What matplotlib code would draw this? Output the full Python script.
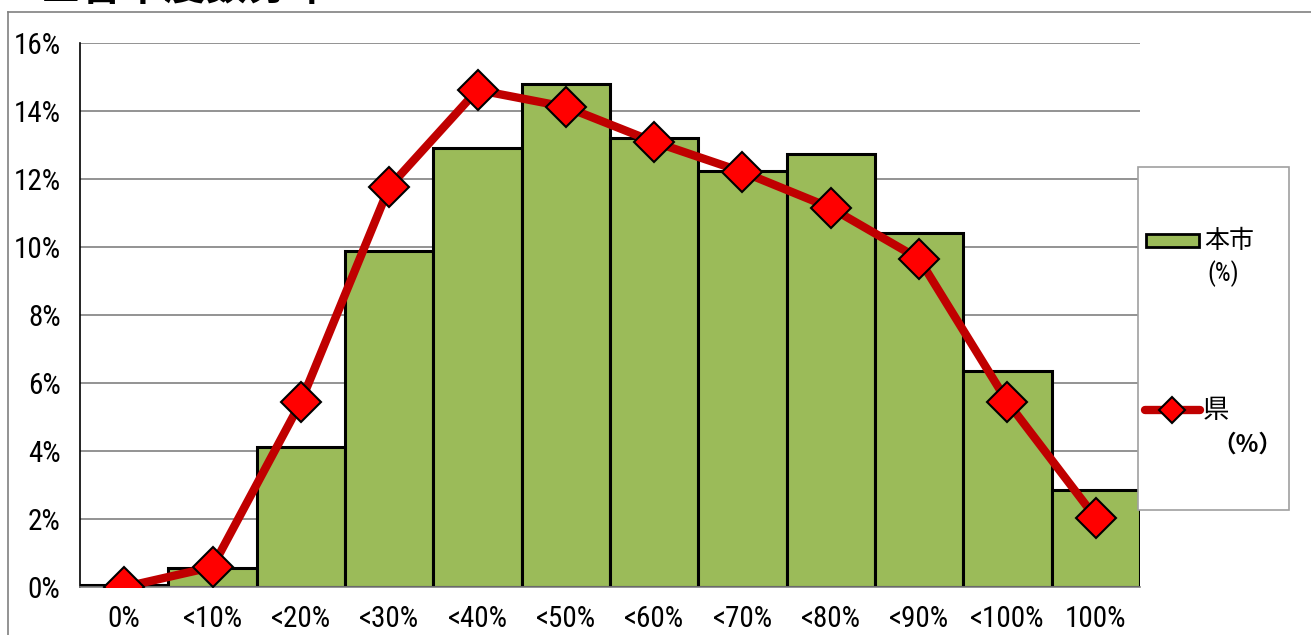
import numpy as np
import matplotlib
matplotlib.use("Agg")
import matplotlib.pyplot as plt
from matplotlib.patches import Rectangle
from matplotlib.lines import Line2D
from matplotlib import font_manager

plt.rcParams['font.family'] = ['Noto Sans CJK JP', 'DejaVu Sans']

# narrow face for the numeric labels, first one available
installed = {f.name for f in font_manager.fontManager.ttflist}
narrow_pref = ['Roboto Condensed', 'PT Sans Narrow', 'Archivo Narrow',
               'Liberation Sans Narrow', 'Open Sans Condensed', 'Noto Sans CJK JP']
NARROW = [next(n for n in narrow_pref if n in installed or n == 'Noto Sans CJK JP'),
          'Noto Sans CJK JP']

# distribution data (percent of total)
categories = ["0%", "<10%", "<20%", "<30%", "<40%", "<50%",
              "<60%", "<70%", "<80%", "<90%", "<100%", "100%"]
city_pct = [0.05, 0.55, 4.12, 9.88, 12.91, 14.79, 13.21, 12.24, 12.74, 10.41, 6.35, 2.85]
pref_pct = [0.0, 0.59, 5.44, 11.76, 14.62, 14.12, 13.09, 12.21, 11.15, 9.65, 5.44, 2.03]
yticks = [0, 2, 4, 6, 8, 10, 12, 14, 16]

BAR_GREEN = "#9BBB59"
LINE_RED = "#C00000"
W, H = 1311, 635

fig = plt.figure(figsize=(W / 100, H / 100), dpi=100)

# chart frame (cut off at the right/bottom edge)
fig.add_artist(Line2D([8 / W, 8 / W], [0, 1 - 12 / H], color="#808080", lw=1.2))
fig.add_artist(Line2D([8 / W, 1], [1 - 12 / H, 1 - 12 / H], color="#808080", lw=1.2))

# title, mostly outside the top of the image
fig.text(40 / W, 1 - (-12) / H, "■合率度数分布", fontsize=30, fontweight="bold",
         ha="left", va="center")

ax = fig.add_axes([80 / W, 1 - 587 / H, 1060 / W, 544 / H])
x = np.arange(len(categories))
ax.bar(x, city_pct, width=1.0, color=BAR_GREEN, edgecolor="black", linewidth=2.2, zorder=2)
ax.plot(x, pref_pct, color=LINE_RED, lw=6, marker="D", markersize=20,
        markerfacecolor="#FF0000", markeredgecolor="black", markeredgewidth=1.5,
        zorder=3, solid_capstyle="round")

ax.set_xlim(-0.5, len(categories) - 0.5)
ax.set_ylim(0, 16)
ax.set_yticks(yticks)
ax.set_yticklabels([f"{v}%" for v in yticks], fontsize=21, family=NARROW)
ax.set_xticks(x)
ax.set_xticklabels(categories, fontsize=21, family=NARROW)
ax.tick_params(axis="x", length=0, pad=13)
ax.tick_params(axis="y", length=0, pad=14)
ax.yaxis.grid(True, color="#808080", lw=1.2, zorder=0)
ax.set_axisbelow(True)
for s in ["top", "right"]:
    ax.spines[s].set_visible(False)
ax.spines["left"].set_color("black")
ax.spines["left"].set_linewidth(1.2)
ax.spines["bottom"].set_color("#808080")
ax.spines["bottom"].set_linewidth(1.2)

# legend box drawn by hand
fig.add_artist(Rectangle((1138 / W, 1 - 510 / H), 151 / W, 343 / H,
                         transform=fig.transFigure, facecolor="white",
                         edgecolor="#A0A0A0", lw=1.2))
fig.add_artist(Rectangle((1146 / W, 1 - 247 / H), 53 / W, 13 / H,
                         transform=fig.transFigure, facecolor=BAR_GREEN,
                         edgecolor="black", lw=2))
fig.text(1204 / W, 1 - 241 / H, "本市", fontsize=18, ha="left", va="center")
fig.text(1207 / W, 1 - 274 / H, "(%)", fontsize=18, family=NARROW,
         ha="left", va="center")
fig.add_artist(Line2D([1145 / W, 1200 / W], [1 - 410 / H, 1 - 410 / H],
                      color=LINE_RED, lw=6, solid_capstyle="round"))
fig.add_artist(Line2D([1172 / W], [1 - 410 / H], marker="D", markersize=13,
                      markerfacecolor="#FF0000", markeredgecolor="black",
                      markeredgewidth=1.5))
fig.text(1203 / W, 1 - 411 / H, "県", fontsize=19, ha="left", va="center")
fig.text(1212 / W, 1 - 445 / H, "（%）", fontsize=17, fontweight="bold",
         ha="left", va="center")

fig.savefig("out.png", dpi=100)
